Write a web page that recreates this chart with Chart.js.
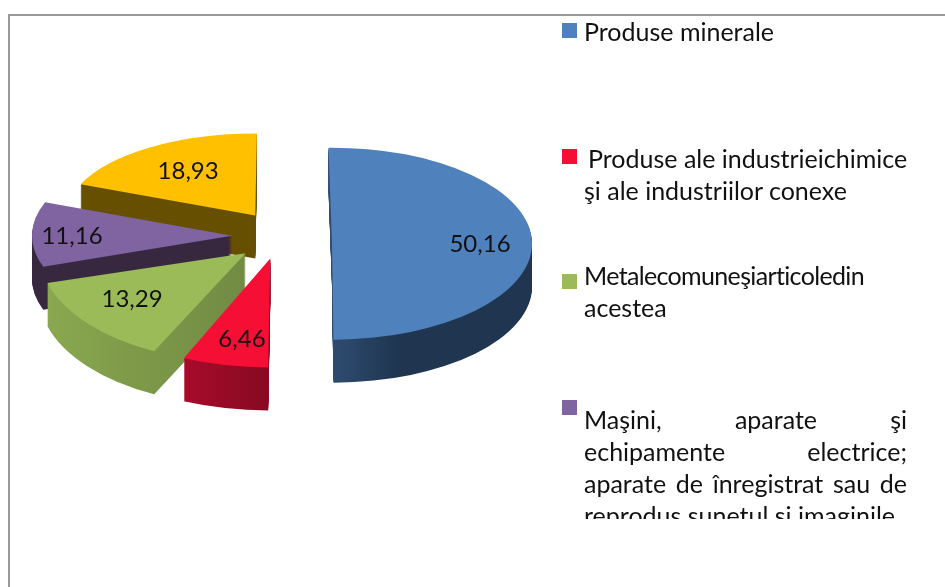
<!DOCTYPE html>
<html lang="ro">

<head>
  <meta charset="utf-8" />
  <title>Structura</title>
  <script src="https://cdn.jsdelivr.net/npm/chart.js"></script>
  <style>
    html, body { margin: 0; background: #fff; }
    body { width: 945px; height: 587px; overflow: hidden; position: relative; font-family: Lato, sans-serif; color: #111; font-variant-ligatures: none; }
    #frame { position: absolute; left: 8px; top: 14px; width: 945px; height: 600px; border: 2px solid #999; box-sizing: border-box; }
    #myChart { position: absolute; left: 0; top: 0; }
    .swatch { position: absolute; width: 15px; height: 15px; }
    .item { position: absolute; left: 584px; width: 323px; font-size: 25px; line-height: 32px; }
    .item span { display: block; white-space: nowrap; }
    .item span.just { white-space: normal; text-align: justify; text-align-last: justify; }
    .item span.indent { padding-left: 4px; }
    .item span.tight { letter-spacing: -0.65px; }
    #clip4 { height: 116px; overflow: hidden; }
  </style>
</head>

<body>
  <div id="frame"></div>
  <canvas id="myChart" width="945" height="587"></canvas>
  <div id="legend"></div>

  <script>
    const categories = [
      'Produse minerale',
      'Produse ale industrieichimice şi ale industriilor conexe',
      'Metalecomuneşiarticoledin acestea',
      'Maşini, aparate şi echipamente electrice; aparate de înregistrat sau de reprodus sunetul şi imaginile',
      'Alte'
    ];
    const values = [50.16, 6.46, 13.29, 11.16, 18.93];
    const colors = ['#4f81bd', '#f50f35', '#9bbb59', '#8064a2', '#ffc000'];
    const sideLeft = ['#2f4d72', '#a80b2b', '#8aa84f', '#38283f', '#665000'];
    const sideRight = ['#1f3550', '#860a22', '#718b43', '#38283f', '#665000'];

    // perspective fudge per slice, the original is a 3d pie
    const scaleX = [1.0, 1.07, 1.03, 1.0, 0.945];
    const scaleY = [0.48, 0.545, 0.5475, 0.47, 0.41];
    const shiftX = [0, -2, 0, 0, 2];
    const shiftY = [8, -2, 0, 0, 0];
    const turn = [0, 1, 3.5, 0, 1.5];
    const labelAt = [0.75, 0.85, 0.77, 0.8, 0.6];
    const labelNudgeX = [-2, 5, 2, 0, 0];
    const labelNudgeY = [1, -10, -12, 2, -4];
    const drawOrder = [4, 3, 2, 1, 0];
    const explode = 50;
    const depth = 43;
    const squash = 0.5;

    const fake3d = {
      id: 'fake3d',
      beforeDatasetDraw(chart) {
        const ctx = chart.ctx;
        const arcs = chart.getDatasetMeta(0).data;
        drawOrder.forEach(i => {
          const arc = arcs[i];
          const m = (arc.startAngle + arc.endAngle) / 2;
          // apex of the slice after exploding it on the squashed pie
          const fx = arc.x + Math.cos(m) * explode + shiftX[i];
          const fy = arc.y + Math.sin(m) * explode * squash + shiftY[i];
          const place = dz => {
            ctx.translate(fx, fy + dz);
            ctx.scale(scaleX[i], scaleY[i]);
            ctx.rotate(turn[i] * Math.PI / 180);
            ctx.translate(-arc.x, -arc.y);
          };
          // side gradient runs over the width of the slice only
          const xs = [0, Math.cos(arc.startAngle), Math.cos(arc.endAngle)];
          if (arc.startAngle < 0 && arc.endAngle > 0) xs.push(1);
          const g = ctx.createLinearGradient(arc.x + Math.min(...xs) * arc.outerRadius, 0, arc.x + Math.max(...xs) * arc.outerRadius, 0);
          g.addColorStop(0, sideLeft[i]);
          g.addColorStop(i === 0 ? 0.35 : 1, sideRight[i]);
          const own = arc.options;
          arc.options = Object.create(own, { backgroundColor: { value: g } });
          for (let dz = depth; dz > 0; dz--) {
            ctx.save();
            place(dz);
            arc.draw(ctx);
            ctx.restore();
          }
          arc.options = own;
          ctx.save();
          place(0);
          arc.draw(ctx);
          ctx.restore();
        });
        return false;
      },
      afterDatasetsDraw(chart) {
        const ctx = chart.ctx;
        ctx.save();
        ctx.font = '24px Lato, sans-serif';
        ctx.fillStyle = '#111';
        ctx.textAlign = 'center';
        ctx.textBaseline = 'middle';
        chart.getDatasetMeta(0).data.forEach((arc, i) => {
          const m = (arc.startAngle + arc.endAngle) / 2;
          const r = arc.outerRadius * labelAt[i];
          const x = arc.x + Math.cos(m) * explode + Math.cos(m) * r * scaleX[i] + labelNudgeX[i];
          const y = arc.y + Math.sin(m) * explode * squash + shiftY[i] + Math.sin(m) * r * scaleY[i] + labelNudgeY[i];
          ctx.fillText(String(values[i]).replace('.', ','), x, y);
        });
        ctx.restore();
      }
    };

    var myChart = new Chart(document.getElementById('myChart'), {
      type: 'pie',
      data: {
        labels: categories,
        datasets: [{ data: values, backgroundColor: colors, borderWidth: 0 }]
      },
      options: {
        responsive: false,
        animation: false,
        rotation: -1,
        radius: 200,
        layout: { padding: { left: 0, top: 0, right: 381, bottom: 115 } },
        plugins: { legend: { display: false }, tooltip: { enabled: false } }
      },
      plugins: [fake3d]
    });

    // legend is plain html, chart.js cannot justify or clip like the original
    const legend = document.getElementById('legend');
    const swatchTop = [23, 149, 274, 400];
    const textTop = [15, 142, 259, 403];
    const itemLines = [
      ['Produse minerale'],
      ['Produse ale industrieichimice', 'şi ale industriilor conexe'],
      ['Metalecomuneşiarticoledin', 'acestea'],
      ['Maşini, aparate şi', 'echipamente electrice;', 'aparate de înregistrat sau de', 'reprodus sunetul şi imaginile']
    ];
    itemLines.forEach((lines, i) => {
      const s = document.createElement('div');
      s.className = 'swatch';
      s.style.cssText = `left:562px;top:${swatchTop[i]}px;background:${colors[i]}`;
      legend.appendChild(s);
      const t = document.createElement('div');
      t.className = 'item';
      t.style.top = textTop[i] + 'px';
      if (i === 3) t.id = 'clip4';
      lines.forEach((l, j) => {
        const e = document.createElement('span');
        e.textContent = l;
        if (i === 3 && j < 3) e.className = 'just';
        if (i === 1 && j === 0) e.className = 'indent';
        if (i === 2 && j === 0) e.className = 'tight';
        t.appendChild(e);
      });
      legend.appendChild(t);
    });
  </script>
</body>

</html>
